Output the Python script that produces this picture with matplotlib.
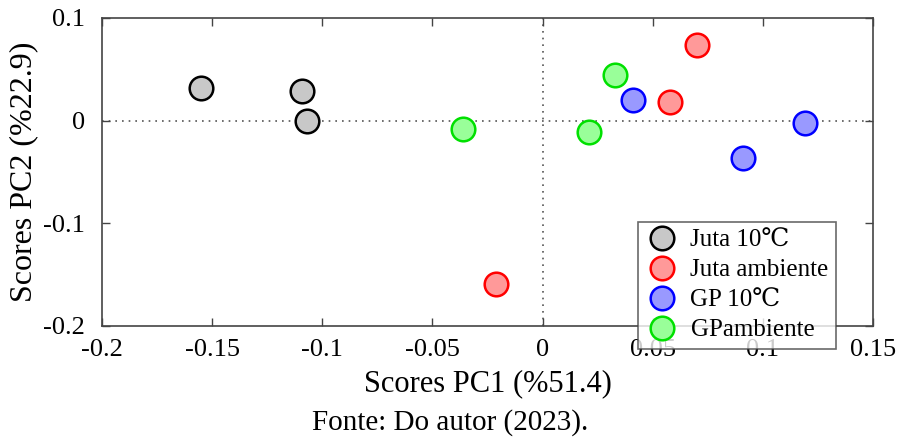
import numpy as np
import matplotlib
matplotlib.use("Agg")
import matplotlib.pyplot as plt

plt.rcParams['font.family'] = ['Liberation Serif', 'DejaVu Serif']

# scores
groups = ["Juta 10\u2103", "Juta ambiente", "GP 10\u2103", "GPambiente"]
pc1 = [
    [-0.155, -0.109, -0.107],
    [-0.021, 0.070, 0.058],
    [0.041, 0.119, 0.091],
    [-0.036, 0.021, 0.033],
]
pc2 = [
    [0.032, 0.029, 0.000],
    [-0.159, 0.074, 0.018],
    [0.020, -0.002, -0.036],
    [-0.008, -0.011, 0.044],
]
edge_colors = ["black", "red", "blue", "#00e000"]
face_colors = ["#c8c8c8", "#ff9999", "#9999ff", "#99ff99"]

fig = plt.figure(figsize=(8.99, 4.41), dpi=100)
ax = fig.add_axes([102 / 899, 1 - 326 / 441, (873 - 102) / 899, (326 - 18) / 441])

ax.axhline(0, color="#555555", linestyle=(0, (1, 3)), linewidth=1.2, zorder=1)
ax.axvline(0, color="#555555", linestyle=(0, (1, 3)), linewidth=1.2, zorder=1)

for i, name in enumerate(groups):
    ax.plot(pc1[i], pc2[i], "o", markersize=17, markerfacecolor=face_colors[i],
            markeredgecolor=edge_colors[i], markeredgewidth=1.8, linestyle="none",
            label=name, zorder=3)

ax.set_xlim(-0.2, 0.15)
ax.set_ylim(-0.2, 0.1)
ax.set_xticks([-0.2, -0.15, -0.1, -0.05, 0, 0.05, 0.1, 0.15])
ax.set_xticklabels(["-0.2", "-0.15", "-0.1", "-0.05", "0", "0.05", "0.1", "0.15"])
ax.set_yticks([-0.2, -0.1, 0, 0.1])
ax.set_yticklabels(["-0.2", "-0.1", "0", "0.1"])
ax.tick_params(direction="in", top=True, right=True, length=6, width=1,
               labelsize=19, color="#444444")
ax.tick_params(axis="x", pad=9)
ax.tick_params(axis="y", pad=12)
for s in ax.spines.values():
    s.set_color("#444444")
    s.set_linewidth(1.2)

ax.set_xlabel("Scores PC1 (%51.4)", fontsize=22, labelpad=6)
ax.set_ylabel("Scores PC2 (%22.9)", fontsize=23, labelpad=4)

leg = ax.legend(loc="lower left", bbox_to_anchor=(638 / 899, 1 - 349 / 441),
                bbox_transform=fig.transFigure, fontsize=18, frameon=True,
                fancybox=False, edgecolor="#444444", handletextpad=0.5,
                borderpad=0.3, labelspacing=0.3, handlelength=1.3, markerscale=1.0,
                borderaxespad=0)
leg.get_frame().set_linewidth(1.2)
leg.set_zorder(5)

fig.text(450 / 899, 1 - 423 / 441, "Fonte: Do autor (2023).", ha="center", va="center",
         fontsize=21)

fig.savefig("out.png", dpi=100)
